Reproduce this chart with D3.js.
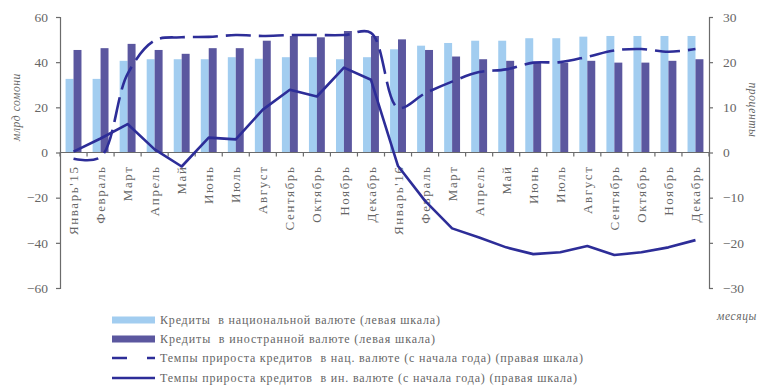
<!DOCTYPE html>
<html>
<head>
<meta charset="utf-8">
<script src="https://cdn.jsdelivr.net/npm/d3@7"></script>
<style>
  html, body { margin: 0; padding: 0; background: #fff; }
  svg { display: block; }
  text { font-family: "Liberation Serif", "Times New Roman", serif; }
</style>
</head>
<body>
<svg id="chart" width="759" height="387"></svg>
<script>
// Month labels (2015 – 2016)
const months = ["Январь'15", "Февраль", "Март", "Апрель", "Май", "Июнь", "Июль", "Август",
  "Сентябрь", "Октябрь", "Ноябрь", "Декабрь",
  "Январь'16", "Февраль", "Март", "Апрель", "Май", "Июнь", "Июль", "Август",
  "Сентябрь", "Октябрь", "Ноябрь", "Декабрь"];

// Loans in national currency, bn somoni (left scale)
const loansNational = [32.6, 32.6, 40.6, 41.3, 41.3, 41.3, 42.2, 41.5, 42.2, 42.2, 41.3, 42.2,
  45.7, 47.3, 48.5, 49.5, 49.5, 50.6, 50.6, 51.3, 51.6, 51.6, 51.6, 51.6];

// Loans in foreign currency, bn somoni (left scale)
const loansForeign = [45.4, 46.2, 48.1, 45.4, 43.7, 46.2, 46.2, 49.5, 51.6, 51.0, 53.8, 51.6,
  50.1, 45.4, 42.5, 41.3, 40.6, 39.8, 39.8, 40.6, 39.8, 39.8, 40.6, 41.3];

// Growth of national-currency loans since start of year, % (right scale)
const growthNational = [-1.4, -1.0, 17.4, 24.8, 25.5, 25.6, 26.0, 25.8, 26.0, 26.0, 26.0, 26.5,
  9.9, 13.1, 15.7, 17.8, 18.4, 19.9, 20.0, 21.2, 22.6, 22.9, 22.3, 22.9];

// Growth of foreign-currency loans since start of year, % (right scale)
const growthForeign = [0.2, 3.1, 6.3, 0.7, -3.1, 3.3, 2.9, 9.5, 13.9, 12.4, 18.8, 16.1,
  -3.0, -10.7, -16.8, -18.8, -21.0, -22.5, -22.1, -20.7, -22.7, -22.1, -21.0, -19.4];

const leftTicks = [-60, -40, -20, 0, 20, 40, 60];
const rightTicks = [-30, -20, -10, 0, 10, 20, 30];

const legendItems = [
  "Кредиты  в национальной валюте (левая шкала)",
  "Кредиты  в иностранной валюте (левая шкала)",
  "Темпы прироста кредитов  в нац. валюте (с начала года) (правая шкала)",
  "Темпы прироста кредитов  в ин. валюте (с начала года) (правая шкала)"
];

const colLight = "#a2cdf0";
const colDark = "#5b579f";
const colLine = "#2d2d98";
const colAxis = "#6b6b6b";
const colText = "#666666";
const serif = "'Liberation Serif', 'Times New Roman', serif";

const svg = d3.select("#chart");
const plotLeft = 60, plotRight = 709, plotTop = 17, plotBottom = 288;

const x = d3.scaleBand().domain(d3.range(months.length)).range([plotLeft, plotRight]);
const xs = d3.scaleBand().domain(["nat", "for"]).range([0, x.bandwidth()])
  .paddingInner(0).paddingOuter(0.7);
const yL = d3.scaleLinear().domain([-60, 60]).range([plotBottom, plotTop]);
const yR = d3.scaleLinear().domain([-30, 30]).range([plotBottom, plotTop]);

// Bars
const bars = svg.append("g");
bars.selectAll("rect.nat").data(loansNational).join("rect")
  .attr("class", "nat")
  .attr("x", (d, i) => x(i) + xs("nat"))
  .attr("width", xs.bandwidth())
  .attr("y", d => yL(d))
  .attr("height", d => yL(0) - yL(d))
  .attr("fill", colLight);
bars.selectAll("rect.for").data(loansForeign).join("rect")
  .attr("class", "for")
  .attr("x", (d, i) => x(i) + xs("for"))
  .attr("width", xs.bandwidth())
  .attr("y", d => yL(d))
  .attr("height", d => yL(0) - yL(d))
  .attr("fill", colDark);

// Category axis along zero
const zeroY = yL(0);
svg.append("line")
  .attr("x1", plotLeft).attr("x2", plotRight)
  .attr("y1", zeroY).attr("y2", zeroY)
  .attr("stroke", colAxis).attr("stroke-width", 1.2);
svg.append("g").selectAll("line")
  .data(d3.range(months.length + 1))
  .join("line")
  .attr("x1", i => plotLeft + i * x.step()).attr("x2", i => plotLeft + i * x.step())
  .attr("y1", zeroY).attr("y2", zeroY + 4)
  .attr("stroke", colAxis).attr("stroke-width", 1.2);

const xAxis = svg.append("g")
  .attr("transform", `translate(0,${zeroY})`)
  .call(d3.axisBottom(x).tickSize(0).tickFormat(i => months[i]));
xAxis.select(".domain").remove();
xAxis.selectAll("text")
  .attr("transform", "rotate(-90)")
  .attr("x", -13).attr("y", 0).attr("dy", "0.35em")
  .style("text-anchor", "end")
  .style("font-size", "13px")
  .style("letter-spacing", "1.6px")
  .style("font-family", serif)
  .attr("fill", colText);

// Left axis
const axL = svg.append("g").attr("transform", `translate(${plotLeft},0)`)
  .call(d3.axisLeft(yL).tickValues(leftTicks).tickSize(4).tickPadding(8));
axL.select(".domain").attr("stroke", colAxis).attr("stroke-width", 1.2);
axL.selectAll(".tick line").attr("stroke", colAxis).attr("stroke-width", 1.2);
axL.selectAll("text").style("font-size", "13.5px").attr("fill", colText)
  .style("font-family", serif);

// Right axis
const axR = svg.append("g").attr("transform", `translate(${plotRight},0)`)
  .call(d3.axisRight(yR).tickValues(rightTicks).tickSize(4).tickPadding(10));
axR.select(".domain").attr("stroke", colAxis).attr("stroke-width", 1.2);
axR.selectAll(".tick line").attr("stroke", colAxis).attr("stroke-width", 1.2);
axR.selectAll("text").style("font-size", "13.5px").attr("fill", colText)
  .style("font-family", serif);

// Growth lines
const cx = i => x(i) + x.bandwidth() / 2;
const lineNat = d3.line().x((d, i) => cx(i)).y(d => yR(d)).curve(d3.curveCatmullRom);
const lineFor = d3.line().x((d, i) => cx(i)).y(d => yR(d));

svg.append("path").datum(growthNational)
  .attr("d", lineNat)
  .attr("fill", "none").attr("stroke", colLine).attr("stroke-width", 2.6)
  .attr("stroke-dasharray", "25,8");
svg.append("path").datum(growthForeign)
  .attr("d", lineFor)
  .attr("fill", "none").attr("stroke", colLine).attr("stroke-width", 2.6)
  .attr("stroke-linejoin", "round");

// Axis titles
svg.append("text")
  .attr("transform", "translate(20,107) rotate(-90)")
  .attr("text-anchor", "middle")
  .style("font-size", "11.5px").style("font-style", "italic").style("letter-spacing", "0.6px")
  .attr("fill", colText).text("млрд сомони");
svg.append("text")
  .attr("transform", "translate(749,110) rotate(90)")
  .attr("text-anchor", "middle")
  .style("font-size", "11.5px").style("font-style", "italic").style("letter-spacing", "0.6px")
  .attr("fill", colText).text("проценты");
svg.append("text")
  .attr("x", 757).attr("y", 320)
  .attr("text-anchor", "end")
  .style("font-size", "11.5px").style("font-style", "italic").style("letter-spacing", "0.6px")
  .attr("fill", colText).text("месяцы");

// Legend
const legY = [320, 339, 358, 378];
const leg = svg.append("g");
const symX0 = 112, symX1 = 155, txtX = 160;
leg.append("rect").attr("x", symX0).attr("y", legY[0] - 3.5).attr("width", symX1 - symX0).attr("height", 7).attr("fill", colLight);
leg.append("rect").attr("x", symX0).attr("y", legY[1] - 3.5).attr("width", symX1 - symX0).attr("height", 7).attr("fill", colDark);
leg.append("line").attr("x1", symX0).attr("x2", symX1).attr("y1", legY[2]).attr("y2", legY[2])
  .attr("stroke", colLine).attr("stroke-width", 2.6).attr("stroke-dasharray", "15,20");
leg.append("line").attr("x1", symX0).attr("x2", symX1).attr("y1", legY[3]).attr("y2", legY[3])
  .attr("stroke", colLine).attr("stroke-width", 2.6);
const legWidths = [280, 275, 423, 417];
leg.selectAll("text.l").data(legendItems).join("text")
  .attr("class", "l")
  .attr("x", txtX).attr("y", (d, i) => legY[i]).attr("dy", "0.35em")
  .attr("textLength", (d, i) => legWidths[i]).attr("lengthAdjust", "spacing")
  .style("font-size", "12px").style("white-space", "pre")
  .style("font-family", serif)
  .attr("fill", colText).text(d => d);
</script>
</body>
</html>
